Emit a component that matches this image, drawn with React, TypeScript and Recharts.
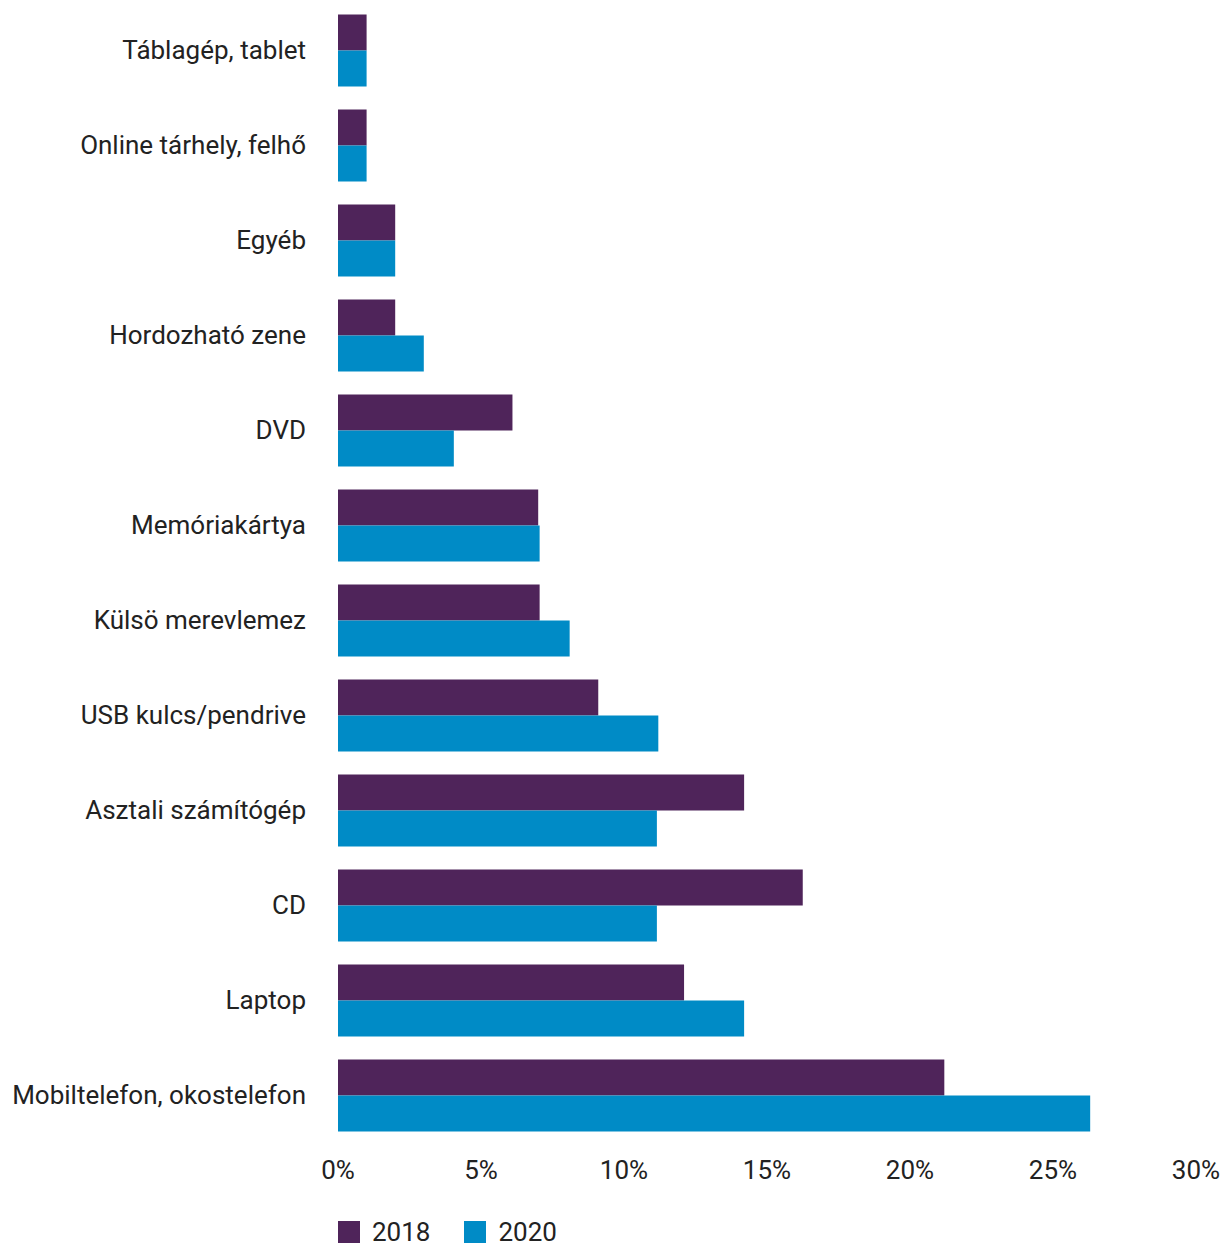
import { Bar, BarChart, Legend, XAxis, YAxis } from 'recharts';

const categories = [
  'Táblagép, tablet',
  'Online tárhely, felhő',
  'Egyéb',
  'Hordozható zene',
  'DVD',
  'Memóriakártya',
  'Külsö merevlemez',
  'USB kulcs/pendrive',
  'Asztali számítógép',
  'CD',
  'Laptop',
  'Mobiltelefon, okostelefon'
];
const values2018 = [1, 1, 2, 2, 6.1, 7, 7.05, 9.1, 14.2, 16.25, 12.1, 21.2];
const values2020 = [1, 1, 2, 3, 4.05, 7.05, 8.1, 11.2, 11.15, 11.15, 14.2, 26.3];
const ticks = [0, 5, 10, 15, 20, 25, 30];

const PURPLE = '#4f245a';
const BLUE = '#008bc6';
const FONT = 'Roboto, "Noto Sans", sans-serif';

const data = categories.map((name, i) => ({ name, y2018: values2018[i], y2020: values2020[i] }));

const renderLegend = (props: any) => (
  <div style={{ display: 'flex', alignItems: 'center', fontFamily: FONT, fontSize: 26, lineHeight: '26px', color: '#222' }}>
    {props.payload.map((item: any) => (
      <div key={item.value} style={{ display: 'flex', alignItems: 'center', marginRight: 34 }}>
        <span style={{ width: 22, height: 22, background: item.color, display: 'inline-block', marginRight: 12 }} />
        <span>{item.value}</span>
      </div>
    ))}
  </div>
);

function App() {
  return (
    <div style={{ position: 'absolute', left: 0, top: 0 }}>
      <BarChart
        width={1223}
        height={1246}
        data={data}
        layout="vertical"
        margin={{ top: 2.5, right: 27, bottom: 27.5, left: 0 }}
        barCategoryGap={12}
        barGap={0}
      >
        <XAxis
          type="number"
          domain={[0, 30]}
          ticks={ticks}
          tickFormatter={(v) => `${v}%`}
          axisLine={false}
          tickLine={false}
          tickSize={0}
          tickMargin={18}
          height={50}
          tick={{ fill: '#222', fontSize: 26, fontFamily: FONT }}
        />
        <YAxis
          type="category"
          dataKey="name"
          width={338}
          axisLine={false}
          tickLine={false}
          tickSize={0}
          tickMargin={32}
          tick={{ fill: '#222', fontSize: 26, fontFamily: FONT }}
        />
        <Legend
          content={renderLegend}
          wrapperStyle={{ position: 'absolute', left: 338, top: 1219, width: 'auto', height: 26 }}
        />
        <Bar dataKey="y2018" name="2018" fill={PURPLE} isAnimationActive={false} />
        <Bar dataKey="y2020" name="2020" fill={BLUE} isAnimationActive={false} />
      </BarChart>
    </div>
  );
}

export default App;
